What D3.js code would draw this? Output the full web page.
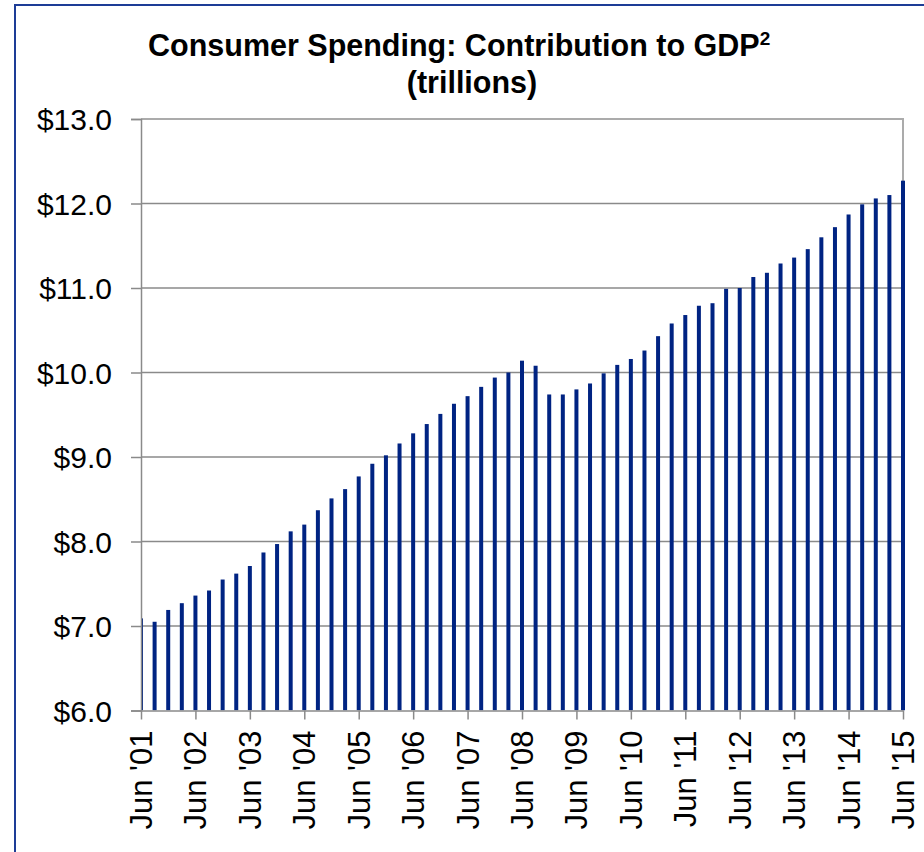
<!DOCTYPE html>
<html>
<head>
<meta charset="utf-8">
<script src="https://cdn.jsdelivr.net/npm/d3@7"></script>
<style>
  html, body { margin: 0; padding: 0; background: #ffffff; }
  svg { display: block; }
  text { font-family: "Liberation Sans", Arial, sans-serif; fill: #000; }
</style>
</head>
<body>
<svg id="chart" width="924" height="852"></svg>
<script>
// Quarterly consumer spending, trillions of dollars (Jun '01 .. Jun '15)
const quarters = [
  "Jun '01","Sep '01","Dec '01","Mar '02",
  "Jun '02","Sep '02","Dec '02","Mar '03",
  "Jun '03","Sep '03","Dec '03","Mar '04",
  "Jun '04","Sep '04","Dec '04","Mar '05",
  "Jun '05","Sep '05","Dec '05","Mar '06",
  "Jun '06","Sep '06","Dec '06","Mar '07",
  "Jun '07","Sep '07","Dec '07","Mar '08",
  "Jun '08","Sep '08","Dec '08","Mar '09",
  "Jun '09","Sep '09","Dec '09","Mar '10",
  "Jun '10","Sep '10","Dec '10","Mar '11",
  "Jun '11","Sep '11","Dec '11","Mar '12",
  "Jun '12","Sep '12","Dec '12","Mar '13",
  "Jun '13","Sep '13","Dec '13","Mar '14",
  "Jun '14","Sep '14","Dec '14","Mar '15",
  "Jun '15"
];

const spending = [
  7.09, 7.05, 7.19, 7.27,
  7.36, 7.42, 7.55, 7.62,
  7.71, 7.87, 7.97, 8.12,
  8.20, 8.37, 8.51, 8.62,
  8.77, 8.92, 9.02, 9.16,
  9.28, 9.39, 9.51, 9.63,
  9.72, 9.83, 9.94, 10.00,
  10.14, 10.08, 9.74, 9.74,
  9.80, 9.87, 9.99, 10.09,
  10.16, 10.26, 10.43, 10.58,
  10.68, 10.79, 10.82, 10.99,
  11.00, 11.13, 11.18, 11.29,
  11.36, 11.46, 11.60, 11.72,
  11.87, 11.99, 12.06, 12.10,
  12.27
];

const xTickLabels = [
  "Jun '01","Jun '02","Jun '03","Jun '04","Jun '05","Jun '06","Jun '07","Jun '08",
  "Jun '09","Jun '10","Jun '11","Jun '12","Jun '13","Jun '14","Jun '15"
];
const yTickValues = [6, 7, 8, 9, 10, 11, 12, 13];

const titleLine1 = "Consumer Spending: Contribution to GDP";
const titleSup = "2";
const titleLine2 = "(trillions)";

const svg = d3.select("#chart");
const plot = { left: 141, right: 903, top: 119, bottom: 710.5 };

// outer frame
svg.append("rect")
  .attr("x", 15).attr("y", 5)
  .attr("width", 1000).attr("height", 1000)
  .attr("fill", "none")
  .attr("stroke", "#1d3c96")
  .attr("stroke-width", 2);

const x = d3.scalePoint().domain(quarters).range([plot.left, plot.right]);
const y = d3.scaleLinear().domain([6, 13]).range([plot.bottom, plot.top]);

// horizontal gridlines
svg.append("g")
  .selectAll("line")
  .data(yTickValues.filter(v => v > 6 && v < 13))
  .join("line")
  .attr("x1", plot.left).attr("x2", plot.right)
  .attr("y1", d => y(d)).attr("y2", d => y(d))
  .attr("stroke", "#8a8a8a")
  .attr("stroke-width", 1.5);

// plot area top and right edges
svg.append("path")
  .attr("d", `M${plot.left},${y(13)}H${plot.right}V${plot.bottom}`)
  .attr("fill", "none")
  .attr("stroke", "#ababab")
  .attr("stroke-width", 2);

// clip so the first bar sits half behind the value axis
svg.append("clipPath").attr("id", "barsClip")
  .append("rect")
  .attr("x", plot.left).attr("y", 0)
  .attr("width", 800).attr("height", plot.bottom);

const barW = 4;
svg.append("g")
  .attr("clip-path", "url(#barsClip)")
  .selectAll("rect")
  .data(quarters.map((q, i) => ({ q, v: spending[i] })))
  .join("rect")
  .attr("x", d => x(d.q) - barW / 2)
  .attr("width", barW)
  .attr("y", d => y(d.v))
  .attr("height", d => y(6) - y(d.v))
  .attr("fill", "#002382");

// value axis
const yAxis = svg.append("g")
  .attr("transform", `translate(${plot.left},0)`)
  .call(d3.axisLeft(y).tickValues(yTickValues).tickSize(10).tickPadding(19)
    .tickFormat(d3.format("$.1f")));
yAxis.select(".domain").attr("stroke", "#8a8a8a").attr("stroke-width", 1.5);
yAxis.selectAll(".tick line").attr("stroke", "#8a8a8a").attr("stroke-width", 1.5);
yAxis.selectAll(".tick text")
  .attr("font-size", 30)
  .attr("font-family", "Liberation Sans, Arial, sans-serif")
  .attr("dy", "0.35em");

// category axis
const xAxis = svg.append("g")
  .attr("transform", `translate(0,${plot.bottom})`)
  .call(d3.axisBottom(x).tickValues(xTickLabels).tickSize(9).tickSizeOuter(0));
xAxis.select(".domain").attr("stroke", "#8a8a8a").attr("stroke-width", 1.5);
xAxis.selectAll(".tick line").attr("stroke", "#8a8a8a").attr("stroke-width", 1.5);
xAxis.selectAll(".tick text")
  .attr("font-size", 31)
  .attr("font-family", "Liberation Sans, Arial, sans-serif")
  .attr("text-anchor", "end")
  .attr("x", 0).attr("y", 0).attr("dy", 0)
  .attr("transform", "translate(10.5,20) rotate(-90)");

// title
const title = svg.append("text")
  .attr("x", 148).attr("y", 56)
  .attr("text-anchor", "start")
  .attr("font-size", 30.5)
  .attr("font-weight", "bold");
title.append("tspan").text(titleLine1);
title.append("tspan")
  .attr("font-size", 19)
  .attr("dy", -11)
  .text(titleSup);

svg.append("text")
  .attr("x", 472).attr("y", 93)
  .attr("text-anchor", "middle")
  .attr("font-size", 30.5)
  .attr("font-weight", "bold")
  .text(titleLine2);
</script>
</body>
</html>
